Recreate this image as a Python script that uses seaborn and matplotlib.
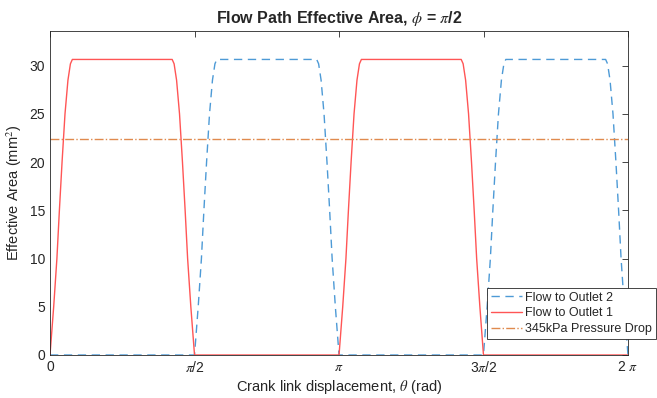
import numpy as np
import matplotlib
matplotlib.use("Agg")
import matplotlib.pyplot as plt
import seaborn as sns

# ---- data ----
theta_out2 = [0, 1.571, 1.611, 1.646, 1.673, 1.702, 1.734, 1.766, 1.793, 1.814,
              2.899, 2.920, 2.947, 2.979, 3.011, 3.040, 3.067, 3.102, 3.142,
              4.712, 4.752, 4.787, 4.814, 4.843, 4.875, 4.907, 4.934, 4.955,
              6.040, 6.061, 6.088, 6.120, 6.152, 6.181, 6.208, 6.243, 6.283]
area_out2 = [0, 0, 5, 10, 15, 20, 25, 28.5, 30.2, 30.65,
             30.65, 30.2, 28.5, 25, 20, 15, 10, 5, 0,
             0, 5, 10, 15, 20, 25, 28.5, 30.2, 30.65,
             30.65, 30.2, 28.5, 25, 20, 15, 10, 5, 0]

theta_out1 = [0, 0.040, 0.075, 0.102, 0.131, 0.163, 0.195, 0.222, 0.243,
              1.328, 1.349, 1.376, 1.408, 1.440, 1.469, 1.496, 1.531, 1.571,
              3.142, 3.182, 3.217, 3.244, 3.273, 3.305, 3.337, 3.364, 3.385,
              4.470, 4.491, 4.518, 4.550, 4.582, 4.611, 4.638, 4.673, 4.712, 6.283]
area_out1 = [0, 5, 10, 15, 20, 25, 28.5, 30.2, 30.65,
             30.65, 30.2, 28.5, 25, 20, 15, 10, 5, 0,
             0, 5, 10, 15, 20, 25, 28.5, 30.2, 30.65,
             30.65, 30.2, 28.5, 25, 20, 15, 10, 5, 0, 0]

theta_drop = [0, 6.283]
area_drop = [22.4, 22.4]

xtick_pos = [0, np.pi / 2, np.pi, 3 * np.pi / 2, 2 * np.pi]
xtick_labels = ["0", r"$\pi$/2", r"$\pi$", r"3$\pi$/2", r"2 $\pi$"]
ytick_pos = [0, 5, 10, 15, 20, 25, 30]

# ---- style ----
sns.set_style("white")
plt.rcParams["font.family"] = ["Liberation Sans", "DejaVu Sans"]
plt.rcParams["mathtext.fontset"] = "stix"

fig = plt.figure(figsize=(6.57, 3.98), dpi=100)
ax = fig.add_axes([50 / 657, 1 - 355 / 398, 578 / 657, 324 / 398])

sns.lineplot(x=theta_out2, y=area_out2, ax=ax, color="#4d9ad6", linestyle="--",
             linewidth=1.0, label="Flow to Outlet 2", sort=False)
sns.lineplot(x=theta_out1, y=area_out1, ax=ax, color="#ff5555",
             linewidth=1.0, label="Flow to Outlet 1", sort=False)
sns.lineplot(x=theta_drop, y=area_drop, ax=ax, color="#e08a4e", linestyle="-.",
             linewidth=1.0, label="345kPa Pressure Drop", sort=False)
ax.lines[0].set_dashes([6, 4])

ax.set_xlim(0, 2 * np.pi)
ax.set_ylim(0, 33.6)
ax.set_xticks(xtick_pos)
ax.set_xticklabels(xtick_labels)
ax.set_yticks(ytick_pos)
ax.tick_params(direction="in", length=4, width=0.6, colors="#262626",
               labelsize=10, top=True, right=True, labelcolor="#262626")
for s in ax.spines.values():
    s.set_color("#262626")
    s.set_linewidth(0.6)
    s.set_visible(True)

ax.set_title(r"Flow Path Effective Area, $\phi$ = $\pi$/2", fontsize=11.5,
             fontweight="bold", pad=6)
ax.set_xlabel(r"Crank link displacement, $\theta$ (rad)", fontsize=10.5,
              color="#262626", labelpad=2)
ax.set_ylabel(r"Effective Area (mm$^2$)", fontsize=10.5, color="#262626", labelpad=4)

leg = ax.legend(loc="upper left", bbox_to_anchor=(487 / 657, 1 - 288 / 398),
                bbox_transform=fig.transFigure, borderaxespad=0, frameon=True,
                fancybox=False, fontsize=9, handlelength=2.5, borderpad=0.3,
                labelspacing=0.3, handletextpad=0.25)
leg.get_frame().set_edgecolor("#262626")
leg.get_frame().set_linewidth(0.6)
leg.get_frame().set_alpha(1.0)

fig.savefig("out.png", dpi=100)
